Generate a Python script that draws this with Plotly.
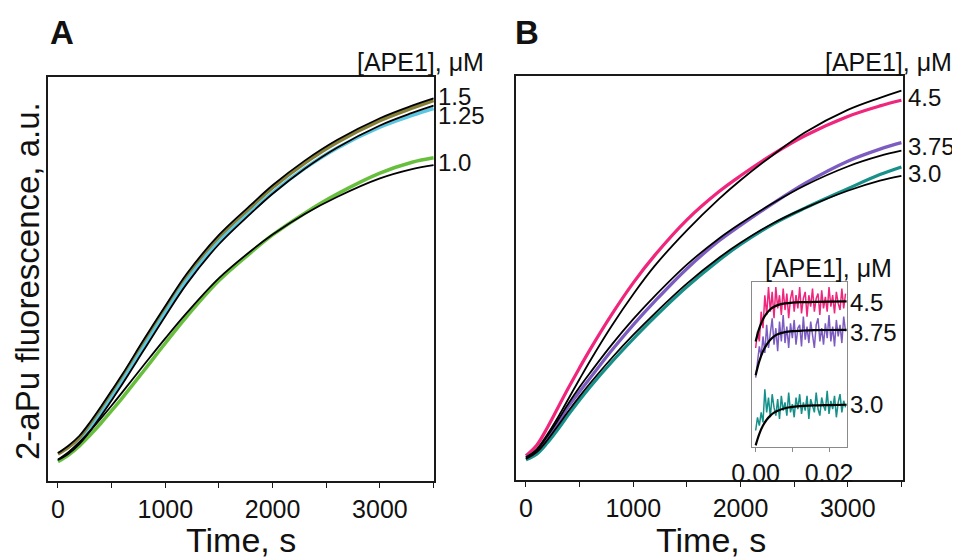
import plotly.graph_objects as go

# page body has an 8px margin, so the figure is drawn 8px in from the window edge
OFF = 8
W, H = 960 - OFF, 558 - OFF

# ---------------- data ----------------
t_main = [0, 100, 200, 300, 400, 500, 600, 800, 1000, 1200, 1500, 1800, 2000, 2300, 2600, 3000, 3300, 3500]

# Panel A  (APE1 = 1.5, 1.25, 1.0 uM)
a_15 = [6.7, 8.4, 10.7, 14.0, 17.8, 21.8, 25.8, 34.4, 42.7, 50.7, 60.3, 67.8, 72.6, 78.7, 83.8, 89.2, 92.3, 94.2]
a_125 = [4.9, 6.8, 9.4, 12.8, 16.6, 20.6, 24.7, 33.2, 41.6, 49.6, 59.2, 66.7, 71.4, 77.4, 82.4, 87.6, 90.5, 92.2]
a_10 = [4.8, 6.5, 8.7, 11.4, 14.3, 17.4, 20.6, 27.3, 34.1, 40.7, 49.6, 56.6, 60.9, 66.3, 71.0, 76.2, 78.9, 80.0]
a_fit_15 = [6.9, 8.8, 11.2, 14.6, 18.4, 22.4, 26.4, 35.0, 43.3, 51.3, 60.9, 68.4, 73.2, 79.3, 84.4, 89.8, 92.9, 94.7]
a_fit_125 = [5.2, 6.8, 9.2, 12.4, 16.1, 20.0, 24.0, 32.4, 40.8, 48.8, 58.6, 66.3, 71.1, 77.3, 82.5, 88.0, 91.1, 92.9]
a_fit_10 = [5.3, 7.2, 9.6, 12.4, 15.5, 18.7, 22.0, 28.7, 35.3, 41.6, 50.2, 57.0, 61.0, 66.1, 70.3, 74.9, 77.2, 78.2]

# Panel B  (APE1 = 4.5, 3.75, 3.0 uM)
b_45 = [6.0, 8.6, 13.0, 18.0, 23.0, 27.8, 32.4, 41.0, 48.8, 55.6, 64.4, 71.4, 75.3, 80.6, 85.2, 90.0, 92.6, 94.0]
b_375 = [5.6, 7.2, 10.4, 14.2, 18.4, 21.9, 25.3, 32.1, 38.4, 44.2, 52.3, 59.2, 63.0, 68.4, 73.4, 78.9, 81.9, 83.5]
b_30 = [5.0, 6.4, 9.2, 12.6, 16.3, 19.8, 23.1, 29.2, 34.9, 40.3, 47.8, 54.4, 58.3, 63.3, 67.3, 72.1, 75.6, 77.5]
b_fit_45 = [5.6, 7.6, 11.3, 15.6, 20.3, 25.0, 29.6, 38.2, 46.0, 53.0, 61.8, 69.6, 74.2, 80.4, 86.0, 91.6, 94.6, 96.4]
b_fit_375 = [5.4, 7.4, 10.9, 14.9, 19.1, 23.0, 26.6, 33.5, 39.8, 45.5, 53.3, 59.8, 63.5, 68.5, 72.9, 77.6, 80.2, 81.5]
b_fit_30 = [5.2, 6.9, 9.9, 13.5, 17.2, 20.7, 24.0, 30.2, 35.9, 41.2, 48.6, 55.0, 58.7, 63.5, 67.3, 71.6, 74.1, 75.3]

# Inset (short time scale, s)
t_inset = [0.0000, 0.0005, 0.0010, 0.0015, 0.0020, 0.0025, 0.0030, 0.0035, 0.0040, 0.0045,
           0.0050, 0.0055, 0.0060, 0.0065, 0.0070, 0.0075, 0.0080, 0.0085, 0.0090, 0.0095,
           0.0100, 0.0105, 0.0110, 0.0115, 0.0120, 0.0125, 0.0130, 0.0135, 0.0140, 0.0145,
           0.0150, 0.0155, 0.0160, 0.0165, 0.0170, 0.0175, 0.0180, 0.0185, 0.0190, 0.0195,
           0.0200, 0.0205, 0.0210, 0.0215, 0.0220, 0.0225, 0.0230, 0.0235, 0.0240, 0.0245]
i_45 = [60, 70, 64, 82, 72, 92, 80, 97, 82, 94, 78, 97, 84, 92, 80, 96, 83, 93, 78, 90,
        95, 82, 92, 84, 97, 81, 90, 94, 79, 92, 85, 96, 82, 90, 93, 80, 95, 84, 91, 82,
        97, 85, 92, 81, 94, 87, 83, 96, 84, 93]
i_375 = [42, 52, 61, 55, 67, 57, 74, 60, 69, 78, 62, 72, 58, 76, 64, 80, 63, 73, 60, 75,
         66, 77, 62, 72, 74, 61, 79, 65, 73, 63, 76, 68, 60, 74, 78, 64, 72, 62, 75, 66,
         80, 64, 73, 61, 77, 67, 74, 63, 79, 70]
i_30 = [10, 18, 13, 21, 15, 35, 21, 30, 18, 32, 24, 19, 29, 17, 31, 22, 27, 19, 33, 21,
        26, 18, 30, 23, 32, 20, 27, 22, 31, 17, 29, 24, 21, 33, 23, 19, 30, 25, 22, 34,
        20, 28, 23, 31, 18, 27, 32, 21, 28, 24]
t_inset_fit = [0.0, 0.001, 0.002, 0.003, 0.004, 0.005, 0.006, 0.008, 0.010, 0.013, 0.016, 0.020, 0.0248]
i_fit_45 = [64, 72, 77.5, 81, 83.5, 85, 86, 87, 87.5, 87.8, 88, 88.1, 88.2]
i_fit_375 = [43.5, 52, 58, 62, 65, 67, 68.3, 69.6, 70.2, 70.6, 70.8, 70.9, 71]
i_fit_30 = [1, 8, 13, 16.5, 19, 20.8, 22, 23.5, 24.3, 24.9, 25.2, 25.4, 25.6]

main_ticks = [0, 500, 1000, 1500, 2000, 2500, 3000, 3500]
main_ticktext = ["0", "", "1000", "", "2000", "", "3000", ""]
inset_ticks = [0.0, 0.01, 0.02]
inset_ticktext = ["0.00", "", "0.02"]

labels_a = ["1.5", "1.25", "1.0"]
labels_b = ["4.5", "3.75", "3.0"]

COL_15, COL_125, COL_10 = "#857f38", "#5cc6e2", "#68bf3e"
COL_45, COL_375, COL_30 = "#f0267c", "#7d5cc2", "#17908a"

FONT = "Arial, 'Liberation Sans', sans-serif"


def px(x):
    return (x - OFF) / W


def py(y):
    return 1 - (y - OFF) / H


fig = go.Figure()


def add_line(x, y, color, width, xa, ya, shape="spline"):
    fig.add_trace(go.Scatter(x=x, y=y, mode="lines", xaxis=xa, yaxis=ya,
                             line=dict(color=color, width=width, shape=shape),
                             showlegend=False, hoverinfo="skip"))


# Panel A
add_line(t_main, a_15, COL_15, 3.5, "x", "y")
add_line(t_main, a_125, COL_125, 3.5, "x", "y")
add_line(t_main, a_10, COL_10, 3.5, "x", "y")
add_line(t_main, a_fit_15, "black", 1.8, "x", "y")
add_line(t_main, a_fit_125, "black", 1.8, "x", "y")
add_line(t_main, a_fit_10, "black", 1.8, "x", "y")

# Panel B
add_line(t_main, b_45, COL_45, 3.2, "x2", "y2")
add_line(t_main, b_375, COL_375, 3.2, "x2", "y2")
add_line(t_main, b_30, COL_30, 3.2, "x2", "y2")
add_line(t_main, b_fit_45, "black", 1.8, "x2", "y2")
add_line(t_main, b_fit_375, "black", 1.8, "x2", "y2")
add_line(t_main, b_fit_30, "black", 1.8, "x2", "y2")

# Inset
add_line(t_inset, i_45, COL_45, 1.5, "x3", "y3", "linear")
add_line(t_inset, i_375, COL_375, 1.5, "x3", "y3", "linear")
add_line(t_inset, i_30, COL_30, 1.5, "x3", "y3", "linear")
add_line(t_inset_fit, i_fit_45, "black", 2.2, "x3", "y3")
add_line(t_inset_fit, i_fit_375, "black", 2.2, "x3", "y3")
add_line(t_inset_fit, i_fit_30, "black", 2.2, "x3", "y3")

main_x = dict(showline=True, mirror=True, linecolor="#1a1a1a", linewidth=1.5,
              ticks="outside", ticklen=5, tickwidth=1.3, tickcolor="#1a1a1a",
              tickvals=main_ticks, ticktext=main_ticktext,
              tickfont=dict(family=FONT, size=25, color="#111"),
              showgrid=False, zeroline=False, automargin=False)
main_y = dict(showline=True, mirror=True, linecolor="#1a1a1a", linewidth=1.5,
              showticklabels=False, ticks="", showgrid=False, zeroline=False,
              range=[0, 100], automargin=False)

fig.update_layout(
    template="none",
    width=W, height=H,
    margin=dict(l=0, r=0, t=0, b=0, pad=0, autoexpand=False),
    paper_bgcolor="white", plot_bgcolor="white",
    xaxis=dict(main_x, domain=[px(48), px(434)], range=[-93, 3504], anchor="y"),
    yaxis=dict(main_y, domain=[py(481), py(77)], anchor="x"),
    xaxis2=dict(main_x, domain=[px(516), px(903)], range=[-93, 3515], anchor="y2"),
    yaxis2=dict(main_y, domain=[py(480), py(76)], anchor="x2"),
    xaxis3=dict(showline=True, mirror=True, linecolor="#8a8a8a", linewidth=1,
                ticks="outside", ticklen=4, tickcolor="#8a8a8a",
                tickvals=inset_ticks, ticktext=inset_ticktext,
                tickfont=dict(family=FONT, size=25, color="#111"),
                showgrid=False, zeroline=False, automargin=False,
                domain=[px(752), px(847)], range=[-0.001, 0.0249], anchor="y3"),
    yaxis3=dict(showline=True, mirror=True, linecolor="#8a8a8a", linewidth=1,
                showticklabels=False, ticks="", showgrid=False, zeroline=False,
                automargin=False,
                domain=[py(447), py(282)], range=[0, 100], anchor="x3"),
)


def ann(text, x, y, size=25, xanchor="left", bold=False, angle=0):
    fig.add_annotation(text=f"<b>{text}</b>" if bold else text,
                       x=px(x), y=py(y), xref="paper", yref="paper",
                       xanchor=xanchor, yanchor="middle", showarrow=False,
                       textangle=angle,
                       font=dict(family=FONT, size=size, color="#111"))


ann("A", 48, 32, size=33, bold=True)
ann("B", 513, 32, size=33, bold=True)
ann("[APE1], μM", 486, 62, xanchor="right")
ann("[APE1], μM", 954, 62, xanchor="right")
ann("[APE1], μM", 828, 268, xanchor="center")

for lab, yy in zip(labels_a, [96, 116, 163]):
    ann(lab, 436, yy, size=24)
for lab, yy in zip(labels_b, [98, 147, 174]):
    ann(lab, 906, yy, size=24)
for lab, yy in zip(labels_b, [302, 332, 404]):
    ann(lab, 848, yy, size=24)

ann("Time, s", 241, 540, size=34, xanchor="center")
ann("Time, s", 711, 540, size=34, xanchor="center")
ann("2-aPu fluorescence, a.u.", 27, 281, size=33, xanchor="center", angle=-90)

fig.write_html("out.html")
